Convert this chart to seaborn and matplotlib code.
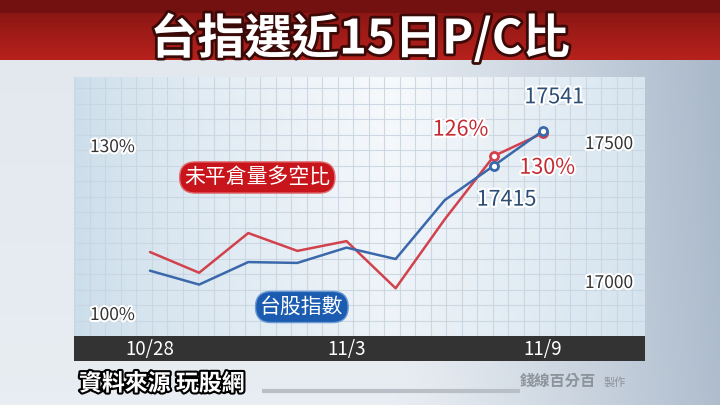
import numpy as np
import pandas as pd
import matplotlib
matplotlib.use("Agg")
import matplotlib.pyplot as plt
import matplotlib.patheffects as pe
from matplotlib.ticker import MultipleLocator
import seaborn as sns

# 資料
dates = ["10/28", "10/29", "11/1", "11/2", "11/3", "11/4", "11/5", "11/8", "11/9"]
pc_ratio = [109.3, 105.7, 112.6, 109.5, 111.2, 103.0, 115.0, 126, 130]   # 未平倉量多空比 (%)
taiex = [17037, 16987, 17068, 17065, 17120, 17079, 17291, 17415, 17541]   # 台股指數
shown_dates = ["10/28", "11/3", "11/9"]
pc_tick_labels = ["100%", "130%"]
taiex_ticks = [17000, 17500]

title = "台指選近15日P/C比"
source = "資料來源 玩股網"

df = pd.DataFrame({"day": range(len(dates)), "pc": pc_ratio, "idx": taiex})

sns.set_style("white")
plt.rcParams["font.family"] = ["Noto Sans CJK TC", "DejaVu Sans"]

RED = "#d2424c"
BLUE = "#3a68aa"
W, H = 720, 405
fig = plt.figure(figsize=(7.2, 4.05), dpi=100)

# 背景漸層
bg = fig.add_axes([0, 0, 1, 1], zorder=0)
gx = np.linspace(0, 1, 200)
gy = np.linspace(0, 1, 120)
X, Y = np.meshgrid(gx, gy)
light = np.array([0.91, 0.93, 0.95])
dark = np.array([0.66, 0.72, 0.79])
t = np.clip((X - 0.55) / 0.45, 0, 1) ** 1.2 * 0.9 + 0.1 * (1 - Y)
img = light[None, None, :] * (1 - t[..., None]) + dark[None, None, :] * t[..., None]
bg.imshow(img, extent=[0, W, H, 0], aspect="auto")
bg.set_xlim(0, W)
bg.set_ylim(H, 0)
# 標題紅條
hy = np.linspace(0, 1, 50)[:, None, None]
top_c = np.array([0.55, 0.09, 0.08])
bot_c = np.array([0.72, 0.13, 0.11])
band = top_c * (1 - hy) + bot_c * hy
bg.imshow(np.repeat(band, 10, axis=1), extent=[0, W, 60, 13], aspect="auto")
bg.imshow(np.full((2, 2, 3), [0.45, 0.07, 0.06]), extent=[0, W, 13, 0], aspect="auto")
bg.text(W / 2, 39, title, ha="center", va="center", fontsize=34, fontweight="bold",
        color="white", path_effects=[pe.withStroke(linewidth=4, foreground="#3a0a08")])
# 底部資料來源
bg.text(79, 384, source, ha="left", va="center", fontsize=16.5, fontweight="bold",
        color="white", path_effects=[pe.withStroke(linewidth=3, foreground="black")])
bg.plot([262, 520], [391, 391], color="#b9bfc6", lw=3, solid_capstyle="butt")
bg.text(520, 381, "錢線百分百", ha="left", va="center", fontsize=11, fontweight="bold", color="#8d949b")
bg.text(604, 382, "製作", ha="left", va="center", fontsize=8, color="#8d949b")
bg.axis("off")

# 圖表區
L, R, T, B = 74, 645, 77, 336
pos = [L / W, (H - B) / H, (R - L) / W, (B - T) / H]

panel = fig.add_axes(pos, zorder=1)
px = np.linspace(0, 1, 200)
py = np.linspace(0, 1, 100)
PX, PY = np.meshgrid(px, py)
edge = np.array([0.80, 0.87, 0.92])
mid = np.array([0.97, 0.98, 0.99])
s = np.clip(1 - np.abs(PX - 0.55) / 0.55, 0, 1) ** 0.8 * (0.75 + 0.25 * PY[::-1])
pimg = edge * (1 - s[..., None]) + mid * s[..., None]
panel.imshow(pimg, extent=[0, R - L, 0, B - T], aspect="auto", zorder=0)
panel.set_xlim(0, R - L)
panel.set_ylim(0, B - T)
panel.xaxis.set_major_locator(MultipleLocator(15.5))
panel.yaxis.set_major_locator(MultipleLocator(15.5))
panel.grid(True, color="#c9d5e0", lw=0.8, alpha=0.9)
panel.tick_params(left=False, bottom=False, labelleft=False, labelbottom=False)
for sp in panel.spines.values():
    sp.set_visible(False)

# x 軸深色條
bar = fig.add_axes([L / W, (H - 361) / H, (R - L) / W, 25 / H], zorder=1)
bar.set_facecolor("#333333")
bar.set_xticks([])
bar.set_yticks([])
for sp in bar.spines.values():
    sp.set_visible(False)

ax = fig.add_axes(pos, zorder=3)
ax.patch.set_alpha(0)
ax2 = ax.twinx()

sns.lineplot(data=df, x="day", y="pc", ax=ax, color=RED, lw=1.8, zorder=3)
sns.lineplot(data=df, x="day", y="idx", ax=ax2, color=BLUE, lw=1.8, zorder=3)
sns.scatterplot(data=df.tail(2), x="day", y="pc", ax=ax, marker="o", s=34,
                facecolor="white", edgecolor=RED, linewidth=2, zorder=4)
sns.scatterplot(data=df.tail(2), x="day", y="idx", ax=ax2, marker="o", s=34,
                facecolor="white", edgecolor=BLUE, linewidth=2, zorder=4)

ax.set_xlim(-1.547, 10.076)
ax.set_ylim(94.7, 139.74)
ax2.set_ylim(16802, 17734)

ax.set_xticks([dates.index(d) for d in shown_dates])
ax.set_xticklabels(shown_dates)
ax.tick_params(axis="x", length=0, pad=2.5, labelsize=13.5, labelcolor="white")

ax.set_yticks([98.7, 127.9])
ax.set_yticklabels(pc_tick_labels)
ax.tick_params(axis="y", length=0, pad=-11.5, labelsize=12.5, labelcolor="#333333")
for lab in ax.get_yticklabels():
    lab.set_horizontalalignment("left")
    lab.set_path_effects([pe.withStroke(linewidth=3, foreground="white")])

ax2.set_yticks(taiex_ticks)
ax2.set_yticklabels([str(v) for v in taiex_ticks])
ax2.tick_params(axis="y", length=0, pad=-8.5, labelsize=12.5, labelcolor="#333333")
for lab in ax2.get_yticklabels():
    lab.set_horizontalalignment("right")
    lab.set_path_effects([pe.withStroke(linewidth=3, foreground="white")])

for a in (ax, ax2):
    a.set_xlabel("")
    a.set_ylabel("")
    for sp in a.spines.values():
        sp.set_visible(False)

# 數值標註
halo = [pe.withStroke(linewidth=3, foreground="white")]
ax.annotate(f"{pc_ratio[-2]}%", xy=(7, pc_ratio[-2]), xytext=(-24, 19), textcoords="offset points",
            ha="center", va="center", fontsize=15.5, color="#c42a32", path_effects=halo)
ax.annotate(f"{pc_ratio[-1]}%", xy=(8, pc_ratio[-1]), xytext=(3, -25), textcoords="offset points",
            ha="center", va="center", fontsize=15.5, color="#c42a32", path_effects=halo)
ax2.annotate(f"{taiex[-1]}", xy=(8, taiex[-1]), xytext=(8, 24), textcoords="offset points",
             ha="center", va="center", fontsize=15.5, color="#2c4d75", path_effects=halo)
ax2.annotate(f"{taiex[-2]}", xy=(7, taiex[-2]), xytext=(9, -24.5), textcoords="offset points",
             ha="center", va="center", fontsize=15.5, color="#2c4d75", path_effects=halo)

# 圖例標籤
ax.text(0.321, 0.612, "未平倉量多空比", transform=ax.transAxes, ha="center", va="center",
        fontsize=15, color="white",
        bbox=dict(boxstyle="round,pad=0.22,rounding_size=0.75", fc="#c8151c", ec="#e06a6e", lw=1))
ax.text(0.399, 0.112, "台股指數", transform=ax.transAxes, ha="center", va="center",
        fontsize=15, color="white",
        bbox=dict(boxstyle="round,pad=0.22,rounding_size=0.75", fc="#1b5cb0", ec="#6c9ad4", lw=1))

fig.savefig("out.png", dpi=100)
